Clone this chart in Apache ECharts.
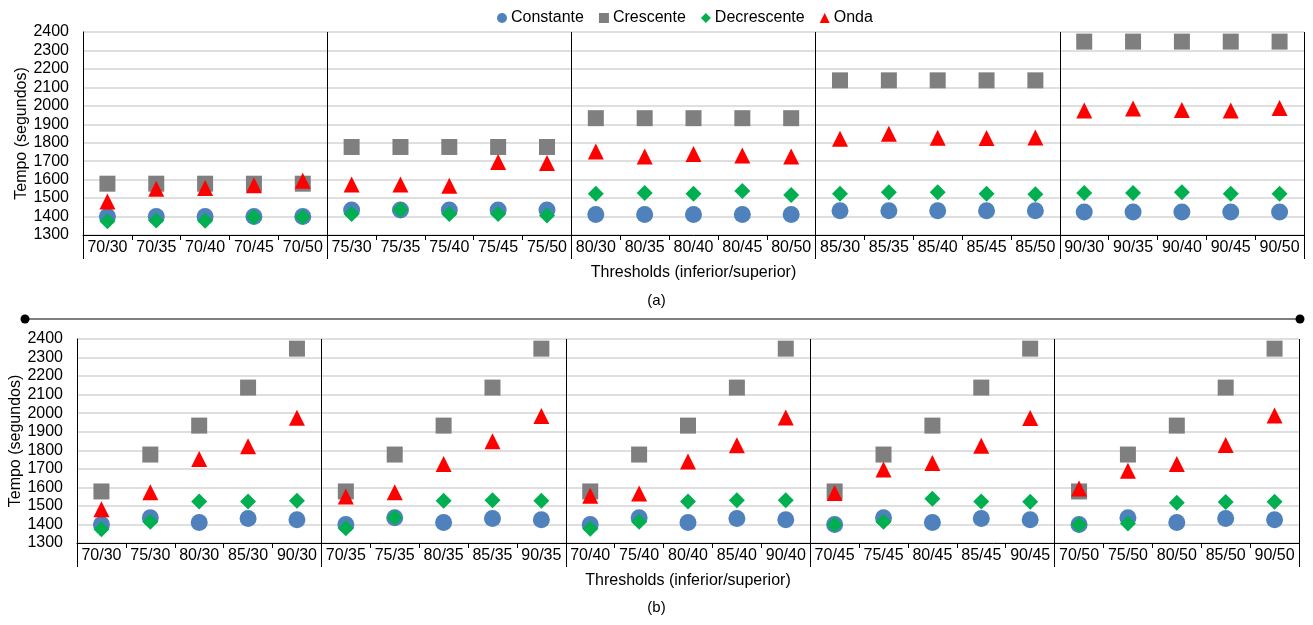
<!DOCTYPE html>
<html>
<head>
<meta charset="utf-8">
<script src="https://cdn.jsdelivr.net/npm/echarts@6/dist/echarts.min.js"></script>
<style>
  html, body { margin: 0; padding: 0; background: #fff; }
  #chart { width: 1313px; height: 625px; }
</style>
</head>
<body>
<div id="chart"></div>
<script>
// Lower and upper thresholds (%)
const inferior = ['70', '75', '80', '85', '90'];
const superior = ['30', '35', '40', '45', '50'];

// Execution time (seconds), ordered by lower threshold, then upper threshold
const constante = [
  1400, 1400, 1400, 1400, 1400,
  1436, 1436, 1436, 1436, 1436,
  1411, 1411, 1411, 1411, 1411,
  1432, 1432, 1432, 1432, 1432,
  1425, 1425, 1425, 1425, 1425
];
const crescente = [
  1578, 1578, 1578, 1578, 1578,
  1777, 1777, 1777, 1777, 1777,
  1933, 1933, 1933, 1933, 1933,
  2138, 2138, 2138, 2138, 2138,
  2348, 2348, 2348, 2348, 2348
];
const decrescente = [
  1374, 1379, 1377, 1398, 1398,
  1414, 1437, 1414, 1414, 1405,
  1524, 1528, 1524, 1538, 1517,
  1524, 1531, 1531, 1524, 1521,
  1528, 1528, 1531, 1523, 1523
];
const onda = [
  1482, 1551, 1555, 1569, 1594,
  1574, 1574, 1567, 1696, 1690,
  1753, 1726, 1739, 1731, 1726,
  1822, 1849, 1827, 1825, 1829,
  1975, 1985, 1977, 1974, 1988
];

const yTicks = { min: 1300, max: 2400, interval: 100 };

// (a) grouped by lower threshold; (b) grouped by upper threshold
const orderA = [], orderB = [];
inferior.forEach((f, i) => superior.forEach((s, j) => orderA.push(i * 5 + j)));
superior.forEach((s, j) => inferior.forEach((f, i) => orderB.push(i * 5 + j)));
const label = k => inferior[Math.floor(k / 5)] + '/' + superior[k % 5];
const catsA = orderA.map(label);
const catsB = orderB.map(label);

const FONT = 'Liberation Sans, Arial, Helvetica, sans-serif';
const txt = { color: '#000', fontFamily: FONT, fontSize: 16 };

const seriesDefs = [
  { name: 'Constante', data: constante, symbol: 'circle', size: 17, color: '#4f81bd' },
  { name: 'Crescente', data: crescente, symbol: 'rect', size: 16, color: '#7f7f7f' },
  { name: 'Decrescente', data: decrescente, symbol: 'diamond', size: 16, color: '#00b050' },
  { name: 'Onda', data: onda, symbol: 'triangle', size: 16, color: '#ff0000' }
];

function catAxis(gridIndex, cats) {
  return {
    type: 'category', gridIndex, data: cats, boundaryGap: true,
    axisLine: { show: true, lineStyle: { color: '#000', width: 1 } },
    axisTick: { show: true, interval: 0, length: 5, lineStyle: { color: '#000' } },
    axisLabel: Object.assign({ interval: 0, margin: 5 }, txt),
    splitLine: { show: false },
    name: 'Thresholds (inferior/superior)', nameLocation: 'middle', nameGap: 30,
    nameMoveOverlap: false,
    nameTextStyle: txt
  };
}
// Group separators (every 5 categories) and the long ticks under the labels
function groupAxis(gridIndex) {
  return {
    type: 'value', gridIndex, min: 0, max: 25, interval: 5, position: 'bottom',
    axisLine: { show: false }, axisLabel: { show: false },
    axisTick: { show: true, length: 24, lineStyle: { color: '#000', width: 1 } },
    splitLine: { show: true, lineStyle: { color: '#000', width: 1 } }
  };
}
function valAxis(gridIndex) {
  return Object.assign({
    type: 'value', gridIndex,
    axisLine: { show: true, lineStyle: { color: '#000', width: 1 } },
    axisTick: { show: false },
    axisLabel: Object.assign({ margin: 14, formatter: v => String(v) }, txt),
    splitLine: { show: true, lineStyle: { color: '#d4d4d4', width: 1.5 } },
    name: 'Tempo (segundos)', nameLocation: 'middle', nameGap: 53, nameRotate: 90,
    nameMoveOverlap: false,
    nameTextStyle: txt
  }, yTicks);
}

const series = [];
[[orderA, 0], [orderB, 1]].forEach(([order, g]) => {
  seriesDefs.forEach(d => {
    series.push({
      type: 'scatter', name: d.name, xAxisIndex: g * 2, yAxisIndex: g,
      symbol: d.symbol, symbolSize: d.size,
      itemStyle: { color: d.color, opacity: 1 },
      data: order.map(k => d.data[k]),
      emphasis: { disabled: true }
    });
  });
});

const chart = echarts.init(document.getElementById('chart'));
chart.setOption({
  animation: false,
  backgroundColor: '#fff',
  legend: {
    top: 5, left: 492, itemGap: 15, itemWidth: 10, itemHeight: 10,
    textStyle: Object.assign({}, txt, { padding: [0, 0, 0, -1] }),
    data: seriesDefs.map(d => ({ name: d.name, icon: d.symbol }))
  },
  grid: [
    { left: 83, right: 9, top: 32, height: 203, containLabel: false },
    { left: 77, right: 14, top: 339, height: 204, containLabel: false }
  ],
  xAxis: [catAxis(0, catsA), groupAxis(0), catAxis(1, catsB), groupAxis(1)],
  yAxis: [valAxis(0), valAxis(1)],
  series,
  graphic: [
    { type: 'text', left: 'center', top: 293, style: { text: '(a)', fill: '#000', font: '15px ' + FONT } },
    { type: 'text', left: 'center', top: 600, style: { text: '(b)', fill: '#000', font: '15px ' + FONT } },
    { type: 'line', shape: { x1: 25, y1: 319, x2: 1300, y2: 319 }, style: { stroke: '#000', lineWidth: 1.2 } },
    { type: 'circle', shape: { cx: 25, cy: 319, r: 4.5 }, style: { fill: '#000' } },
    { type: 'circle', shape: { cx: 1300, cy: 319, r: 4.5 }, style: { fill: '#000' } }
  ]
});
</script>
</body>
</html>
